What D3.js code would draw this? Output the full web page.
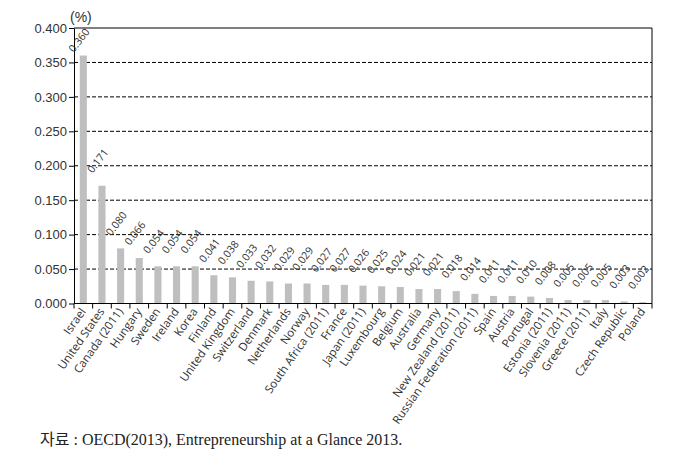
<!DOCTYPE html>
<html><head><meta charset="utf-8">
<script src="https://cdn.jsdelivr.net/npm/d3@7/dist/d3.min.js"></script>
<style>body{margin:0;background:#fff;}svg{display:block;}</style>
</head><body>
<svg id="c" width="682" height="474"></svg>
<script>
const categories = ["Israel","United States","Canada (2011)","Hungary","Sweden","Ireland","Korea","Finland","United Kingdom","Switzerland","Denmark","Netherlands","Norway","South Africa (2011)","France","Japan (2011)","Luxembourg","Belgium","Australia","Germany","New Zealand (2011)","Russian Federation (2011)","Spain","Austria","Portugal","Estonia (2011)","Slovenia (2011)","Greece (2011)","Italy","Czech Republic","Poland"];
const values = [0.360,0.171,0.080,0.066,0.054,0.054,0.054,0.041,0.038,0.033,0.032,0.029,0.029,0.027,0.027,0.026,0.025,0.024,0.021,0.021,0.018,0.014,0.011,0.011,0.010,0.008,0.005,0.005,0.005,0.003,0.002];
const yTicks = [0,0.05,0.1,0.15,0.2,0.25,0.3,0.35,0.4];

const svg = d3.select("#c");
const L=74, R=652, T=28, B=303.5;
const x = d3.scaleBand().domain(categories).range([L,R]).paddingInner(0.62).paddingOuter(0.31);
const y = d3.scaleLinear().domain([0,0.4]).range([B,T]);
const tc = "#333";

// gridlines
svg.append("g").selectAll("line").data(yTicks.filter(d=>d>0 && d<0.4)).join("line")
  .attr("x1",L).attr("x2",R).attr("y1",d=>y(d)).attr("y2",d=>y(d))
  .attr("stroke","#000").attr("stroke-width",1).attr("stroke-dasharray","4,2");
// top & right border
svg.append("line").attr("x1",L).attr("x2",R).attr("y1",y(0.4)).attr("y2",y(0.4)).attr("stroke","#000");
svg.append("line").attr("x1",R).attr("x2",R).attr("y1",y(0.4)).attr("y2",B).attr("stroke","#000");

// bars
svg.append("g").selectAll("rect").data(values).join("rect")
  .attr("x",(d,i)=>x(categories[i])).attr("width",x.bandwidth())
  .attr("y",d=>y(d)).attr("height",d=>B-y(d)).attr("fill","#bfbfbf");

// y axis
const ya = d3.axisLeft(y).tickValues(yTicks).tickFormat(d3.format(".3f")).tickSize(5).tickSizeOuter(0);
const gy = svg.append("g").attr("transform",`translate(${L},0)`).call(ya);
gy.select(".domain").attr("stroke","#000");
gy.selectAll(".tick line").attr("stroke","#000");
gy.selectAll("text").attr("font-family","Liberation Sans Narrow, Arial Narrow, sans-serif").attr("font-size",13).attr("fill",tc).attr("dx",1);

// x axis with ticks at boundaries
svg.append("line").attr("x1",L).attr("x2",R).attr("y1",B).attr("y2",B).attr("stroke","#000");
const step = x.step();
const bounds = d3.range(categories.length+1).map(i=>x(categories[0]) - x.paddingOuter()*step + i*step);
svg.append("g").selectAll("line").data(bounds).join("line")
  .attr("x1",d=>d).attr("x2",d=>d).attr("y1",B).attr("y2",B+5).attr("stroke","#000");

// x labels
svg.append("g").selectAll("text").data(categories).join("text")
  .attr("transform",d=>`translate(${x(d)+x.bandwidth()/2+3},${B+8}) rotate(-55)`)
  .attr("text-anchor","end").attr("font-family","Open Sans, sans-serif").attr("font-size",11.5).attr("fill",tc)
  .text(d=>d);

// value labels
svg.append("g").selectAll("text").data(values).join("text")
  .attr("transform",(d,i)=>`translate(${x(categories[i])-6},${Math.max(y(d)-12, T+25)}) rotate(-52)`)
  .attr("font-family","Open Sans, sans-serif").attr("font-size",10.5).attr("fill",tc)
  .text(d=>d3.format(".3f")(d));

// unit
svg.append("text").attr("x",70).attr("y",22).attr("font-family","Liberation Sans Narrow, sans-serif").attr("font-size",14).attr("fill",tc).text("(%)");

// source
svg.append("text").attr("x",40).attr("y",445).attr("font-family","Liberation Serif, Noto Sans CJK KR, serif").attr("font-size",16).attr("fill","#222")
  .text("자료 : OECD(2013), Entrepreneurship at a Glance 2013.");
</script>
</body></html>
